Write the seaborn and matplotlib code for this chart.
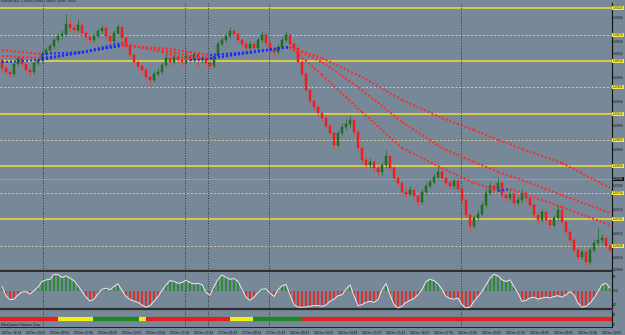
import numpy as np
import pandas as pd
import matplotlib
matplotlib.use("Agg")
import matplotlib.pyplot as plt
import seaborn as sns
from matplotlib.ticker import FormatStrFormatter

# --------- candles (one per bar) ---------
first_open = 1.30020
close = [
    1.30004, 1.29996, 1.29992, 1.30012, 1.30024, 1.30012, 1.30000, 1.29996, 1.30014, 1.30020,
    1.30032, 1.30040, 1.30048, 1.30060, 1.30068, 1.30072, 1.30092, 1.30084, 1.30080, 1.30090,
    1.30074, 1.30066, 1.30060, 1.30068, 1.30078, 1.30084, 1.30068, 1.30058, 1.30074, 1.30086,
    1.30064, 1.30048, 1.30030, 1.30016, 1.30008, 1.30000, 1.29986, 1.29980, 1.29992, 1.29996,
    1.30010, 1.30024, 1.30016, 1.30026, 1.30020, 1.30016, 1.30028, 1.30020, 1.30032, 1.30020,
    1.30024, 1.30014, 1.30008, 1.30028, 1.30052, 1.30060, 1.30068, 1.30078, 1.30072, 1.30060,
    1.30052, 1.30044, 1.30052, 1.30044, 1.30060, 1.30070, 1.30054, 1.30040, 1.30036, 1.30046,
    1.30060, 1.30070, 1.30052, 1.30044, 1.30016, 1.29992, 1.29960, 1.29938, 1.29926, 1.29914,
    1.29904, 1.29888, 1.29874, 1.29850, 1.29874, 1.29886, 1.29892, 1.29900, 1.29876, 1.29844,
    1.29820, 1.29810, 1.29816, 1.29804, 1.29796, 1.29810, 1.29828, 1.29804, 1.29784, 1.29774,
    1.29756, 1.29752, 1.29760, 1.29748, 1.29736, 1.29756, 1.29768, 1.29776, 1.29786, 1.29796,
    1.29784, 1.29774, 1.29768, 1.29778, 1.29762, 1.29740, 1.29710, 1.29688, 1.29704, 1.29712,
    1.29730, 1.29754, 1.29768, 1.29760, 1.29774, 1.29750, 1.29744, 1.29752, 1.29734, 1.29740,
    1.29754, 1.29744, 1.29730, 1.29710, 1.29700, 1.29716, 1.29700, 1.29690, 1.29704, 1.29720,
    1.29696, 1.29676, 1.29660, 1.29640, 1.29626, 1.29636, 1.29616, 1.29640, 1.29654, 1.29660,
    1.29664, 1.29648, 1.29640]
high = [
    1.30024, 1.30008, 1.30000, 1.30016, 1.30030, 1.30028, 1.30016, 1.30004, 1.30018, 1.30026,
    1.30038, 1.30046, 1.30054, 1.30066, 1.30074, 1.30080, 1.30112, 1.30104, 1.30092, 1.30102,
    1.30094, 1.30078, 1.30072, 1.30074, 1.30084, 1.30090, 1.30088, 1.30072, 1.30080, 1.30092,
    1.30088, 1.30068, 1.30052, 1.30034, 1.30020, 1.30012, 1.30004, 1.29990, 1.29998, 1.30004,
    1.30016, 1.30032, 1.30028, 1.30032, 1.30030, 1.30024, 1.30034, 1.30032, 1.30038, 1.30036,
    1.30030, 1.30028, 1.30020, 1.30034, 1.30058, 1.30066, 1.30074, 1.30086, 1.30082, 1.30076,
    1.30064, 1.30056, 1.30058, 1.30056, 1.30066, 1.30078, 1.30074, 1.30058, 1.30046, 1.30052,
    1.30066, 1.30078, 1.30072, 1.30056, 1.30048, 1.30020, 1.29996, 1.29964, 1.29942, 1.29932,
    1.29920, 1.29908, 1.29892, 1.29878, 1.29880, 1.29894, 1.29902, 1.29910, 1.29904, 1.29880,
    1.29848, 1.29826, 1.29824, 1.29820, 1.29810, 1.29816, 1.29840, 1.29830, 1.29808, 1.29790,
    1.29778, 1.29764, 1.29768, 1.29764, 1.29754, 1.29762, 1.29774, 1.29782, 1.29792, 1.29806,
    1.29800, 1.29788, 1.29780, 1.29784, 1.29782, 1.29766, 1.29744, 1.29714, 1.29710, 1.29720,
    1.29738, 1.29762, 1.29776, 1.29772, 1.29786, 1.29778, 1.29756, 1.29760, 1.29756, 1.29748,
    1.29762, 1.29758, 1.29748, 1.29734, 1.29714, 1.29722, 1.29720, 1.29704, 1.29710, 1.29730,
    1.29724, 1.29700, 1.29680, 1.29664, 1.29644, 1.29642, 1.29640, 1.29646, 1.29662, 1.29684,
    1.29672, 1.29668, 1.29652]
low = [
    1.29996, 1.29992, 1.29986, 1.29988, 1.30008, 1.30006, 1.29994, 1.29988, 1.29992, 1.30010,
    1.30016, 1.30028, 1.30036, 1.30044, 1.30056, 1.30062, 1.30068, 1.30078, 1.30074, 1.30076,
    1.30068, 1.30060, 1.30054, 1.30056, 1.30064, 1.30074, 1.30062, 1.30052, 1.30054, 1.30070,
    1.30058, 1.30042, 1.30024, 1.30010, 1.30000, 1.29992, 1.29980, 1.29968, 1.29976, 1.29988,
    1.29992, 1.30006, 1.30010, 1.30012, 1.30014, 1.30008, 1.30012, 1.30014, 1.30016, 1.30004,
    1.30014, 1.30008, 1.30002, 1.30004, 1.30024, 1.30048, 1.30056, 1.30064, 1.30066, 1.30054,
    1.30046, 1.30036, 1.30040, 1.30038, 1.30040, 1.30056, 1.30048, 1.30034, 1.30028, 1.30032,
    1.30042, 1.30056, 1.30046, 1.30038, 1.30012, 1.29986, 1.29956, 1.29932, 1.29920, 1.29908,
    1.29898, 1.29882, 1.29868, 1.29844, 1.29846, 1.29870, 1.29880, 1.29886, 1.29870, 1.29838,
    1.29814, 1.29802, 1.29804, 1.29796, 1.29786, 1.29790, 1.29804, 1.29798, 1.29778, 1.29768,
    1.29750, 1.29746, 1.29748, 1.29742, 1.29726, 1.29732, 1.29752, 1.29764, 1.29772, 1.29782,
    1.29778, 1.29768, 1.29762, 1.29764, 1.29756, 1.29734, 1.29704, 1.29676, 1.29684, 1.29700,
    1.29708, 1.29726, 1.29750, 1.29754, 1.29756, 1.29744, 1.29738, 1.29740, 1.29728, 1.29730,
    1.29736, 1.29738, 1.29724, 1.29704, 1.29694, 1.29696, 1.29694, 1.29684, 1.29686, 1.29700,
    1.29690, 1.29670, 1.29654, 1.29634, 1.29620, 1.29622, 1.29608, 1.29612, 1.29636, 1.29650,
    1.29654, 1.29642, 1.29634]

# --------- moving averages (read at these bars) ---------
ma_idx = [0, 10, 20, 30, 40, 47, 52, 62, 72, 80, 90, 100, 110, 118, 124, 127, 130, 140, 152]
ma_fast = [1.30016, 1.30020, 1.30036, 1.30054, 1.30036, 1.30020, 1.30022, 1.30036, 1.30046, 1.29990,
           1.29916, 1.29844, 1.29804, 1.29774, 1.29758, 1.29762, 1.29754, 1.29726, 1.29690]
ma_mid = [1.30028, 1.30024, 1.30034, 1.30050, 1.30040, 1.30028, 1.30024, 1.30034, 1.30046, 1.30016,
          1.29960, 1.29896, 1.29844, 1.29816, 1.29796, 1.29788, 1.29780, 1.29750, 1.29714]
ma_slow = [1.30040, 1.30032, 1.30036, 1.30048, 1.30044, 1.30036, 1.30030, 1.30036, 1.30046, 1.30024,
           1.29986, 1.29940, 1.29904, 1.29880, 1.29860, 1.29852, 1.29842, 1.29814, 1.29764]

# --------- oscillator ---------
osc = [
    22, -29, -51, -48, -24, -9, -6, -20, 0, 18,
    50, 59, 62, 90, 88, 73, 81, 68, 55, 26,
    -6, -37, -59, -48, -18, 7, 13, 4, 22, 37,
    0, -33, -51, -59, -66, -81, -93, -84, -60, -33,
    0, 31, 55, 51, 40, 44, 57, 44, 37, 40,
    33, -11, -26, 22, 62, 86, 73, 62, 66, 51,
    7, -37, -55, -37, -11, 7, 9, -15, -33, 4,
    26, 33, -24, -79, -92, -93, -92, -88, -84, -84,
    -88, -81, -60, -48, -29, -24, 7, 31, -29, -84,
    -79, -66, -60, -66, -51, 4, 40, -24, -79, -97,
    -88, -66, -55, -44, -24, 4, 50, 62, 55, 37,
    7, -33, -44, -48, -42, -79, -97, -93, -60, -33,
    -6, 31, 68, 90, 81, 59, 50, 59, 22, -15,
    -60, -55, -42, -37, -48, -42, -37, -42, -33, -29,
    -37, -24, -6, -24, -70, -93, -88, -70, -42, -6,
    31, 40, 13]

# --------- levels, separators, signal strip ---------
levels_solid = [1.30124, 1.30018, 1.29912, 1.29808, 1.29702]
levels_dotted = [1.30070, 1.29966, 1.29860, 1.29754, 1.29648]
bid_level = 1.29782
day_breaks = [10.25, 45.75, 51.5, 66.75, 114.75]

strip_start = [-0.5, 14, 22.75, 34.25, 36, 57, 62.75, 75]
strip_end = [14, 22.75, 34.25, 36, 57, 62.75, 75, 152.5]
strip_color = ["#e3211c", "#f2ee1a", "#1b8a1b", "#f2ee1a", "#e3211c", "#f2ee1a", "#1b8a1b", "#e3211c"]

time_labels = ["22 Dec 16:24", "22 Dec 19:04", "23 Dec 00:04", "23 Dec 07:06", "23 Dec 09:29",
               "23 Dec 12:01", "23 Dec 13:04", "23 Dec 15:06", "26 Dec 22:24", "27 Dec 05:19",
               "27 Dec 09:24", "27 Dec 15:42", "28 Dec 00:41", "28 Dec 14:25", "28 Dec 14:48",
               "28 Dec 15:07", "28 Dec 15:41", "28 Dec 16:03", "28 Dec 17:20", "28 Dec 23:26",
               "29 Dec 03:02", "29 Dec 07:22", "29 Dec 08:00", "29 Dec 09:05", "29 Dec 10:46",
               "29 Dec 12:03"]

BG = "#778899"
sns.set_theme(style="white", rc={"axes.facecolor": BG, "figure.facecolor": BG})
plt.rcParams["font.family"] = ["Liberation Sans", "DejaVu Sans"]

df = pd.DataFrame({"close": close, "high": high, "low": low})
df["open"] = [first_open] + close[:-1]
df["idx"] = np.arange(len(df))
df["up"] = df["close"] >= df["open"]

fig = plt.figure(figsize=(6.25, 3.35), dpi=100)
W = 612 / 625
ax = fig.add_axes([0, 1 - 271 / 335, W, 268 / 335])
ax_osc = fig.add_axes([0, 1 - 309 / 335, W, 37 / 335])
ax_bar = fig.add_axes([0, 1 - 327 / 335, W, 16 / 335])

XL = (-0.5, 152.5)
FS = 2.1
TXT = "#111111"
TICK = dict(labelsize=FS, length=0.6, width=0.4, pad=0.25, colors=TXT)

# --------- main price panel ---------
for lv in levels_solid:
    ax.axhline(lv, color="#d9c94e", lw=1.4, zorder=1)
for lv in levels_dotted:
    ax.axhline(lv, color="#d6cf8c", lw=0.7, ls=(0, (2, 2)), zorder=1)
ax.axhline(bid_level, color="#62b9d2", lw=0.6, zorder=1)
for b in day_breaks:
    for a in (ax, ax_osc, ax_bar):
        a.axvline(b, color="#1a1a1a", lw=0.6, ls=(0, (1, 2)), zorder=1)

wick_col = np.where(df["up"], "#2c6e2c", "#d24848")
ax.vlines(df["idx"], df["low"], df["high"], colors=wick_col, lw=0.55, zorder=2)
ax.bar(df["idx"], df["close"] - df["open"], bottom=df["open"], width=0.72,
       color=np.where(df["up"], "#1f7a22", "#ff1f1f"),
       edgecolor=np.where(df["up"], "#0f4d12", "#d01010"), lw=0.25, zorder=3)

rows = []
for name, vals in (("fast", ma_fast), ("mid", ma_mid), ("slow", ma_slow)):
    for k in range(len(ma_idx) - 1):
        trend = "up" if vals[k + 1] > vals[k] else "down"
        for j in (k, k + 1):
            rows.append({"seg": f"{name}{k}", "x": ma_idx[j], "y": vals[j], "trend": trend})
ma_df = pd.DataFrame(rows)
sns.lineplot(data=ma_df, x="x", y="y", hue="trend", units="seg", estimator=None, sort=False,
             palette={"up": "#1a2cff", "down": "#ff2b2b"}, legend=False, ax=ax,
             lw=1.45, linestyle=(0, (1, 1)), zorder=4)

ax.set_xlim(*XL)
ax.set_ylim(1.29598, 1.30134)
ax.yaxis.tick_right()
# price scale ticks, skipping those hidden under the highlighted level labels
marked = levels_solid + levels_dotted + [bid_level]
price_ticks = [t for t in np.arange(1.29600, 1.30134, 0.00024)
               if min(abs(t - m) for m in marked) > 0.00011]
ax.set_yticks(price_ticks)
ax.yaxis.set_major_formatter(FormatStrFormatter("%.5f"))
ax.tick_params(axis="y", **TICK)
ax.set_xticks([])
ax.set_xlabel("")
ax.set_ylabel("")
for s in ("left", "top"):
    ax.spines[s].set_visible(False)
ax.spines["right"].set_color(TXT)
ax.spines["right"].set_linewidth(0.8)
ax.spines["bottom"].set_color("#2e2e2e")
ax.spines["bottom"].set_linewidth(1.6)

ytr = ax.get_yaxis_transform()
for lv in levels_solid + levels_dotted:
    ax.text(1.0015, lv, f"{lv:.5f}", transform=ytr, fontsize=FS, va="center", ha="left",
            color="#222222", clip_on=False, zorder=6,
            bbox=dict(facecolor="#f3e845", edgecolor="none", pad=0.35))
ax.text(1.0015, bid_level, f"{bid_level:.5f}", transform=ytr, fontsize=FS, va="center", ha="left",
        color="white", clip_on=False, zorder=6, bbox=dict(facecolor="#111111", edgecolor="none", pad=0.35))
ax.text(0.002, 1.001, "EURUSD,M15  1.29640 1.29668 1.29634 1.29640  -0.02%", transform=ax.transAxes,
        fontsize=FS, va="bottom", ha="left", color=TXT)

# --------- oscillator panel ---------
osc_s = pd.Series(osc, dtype=float)
ax_osc.bar(df["idx"], osc_s, width=0.5, color=np.where(osc_s >= 0, "#2f8a3a", "#d23434"),
           edgecolor="none", zorder=2)
sns.lineplot(x=df["idx"], y=osc_s, color="#ececec", lw=0.7, ax=ax_osc, zorder=3)
ax_osc.set_xlim(*XL)
ax_osc.set_ylim(-103, 103)
ax_osc.yaxis.tick_right()
ax_osc.set_yticks([80, 0, -80])
ax_osc.set_yticklabels(["80", "0.00", "-80"])
ax_osc.tick_params(axis="y", **TICK)
ax_osc.set_xticks([])
ax_osc.set_xlabel("")
ax_osc.set_ylabel("")
ax_osc.spines["left"].set_visible(False)
ax_osc.spines["top"].set_visible(False)
ax_osc.spines["right"].set_color(TXT)
ax_osc.spines["right"].set_linewidth(0.8)
ax_osc.spines["bottom"].set_color("#2e2e2e")
ax_osc.spines["bottom"].set_linewidth(1.6)

# --------- signal strip and time axis ---------
ax_bar.hlines([0] * len(strip_start), strip_start, strip_end, colors=strip_color, lw=3.0, zorder=2)
ax_bar.set_xlim(*XL)
ax_bar.set_ylim(-1, 1)
ax_bar.yaxis.tick_right()
ax_bar.set_yticks([0.55, -0.75])
ax_bar.set_yticklabels(["50", "0"])
ax_bar.tick_params(axis="y", **TICK)
ticks = np.arange(0, 153, 6)
ax_bar.set_xticks(ticks)
ax_bar.set_xticklabels(time_labels, ha="left")
ax_bar.tick_params(axis="x", labelsize=FS + 0.2, length=1.5, width=0.4, pad=1.2, colors=TXT)
ax_bar.spines["left"].set_visible(False)
ax_bar.spines["top"].set_visible(False)
ax_bar.spines["right"].set_color(TXT)
ax_bar.spines["right"].set_linewidth(0.8)
ax_bar.spines["bottom"].set_color(TXT)
ax_bar.spines["bottom"].set_linewidth(0.6)
ax_bar.text(0.002, 0.03, "MetaQuotes Software Corp.", transform=ax_bar.transAxes,
            fontsize=FS + 0.2, va="bottom", ha="left", color=TXT)

fig.savefig("out.png", dpi=100, facecolor=BG)
